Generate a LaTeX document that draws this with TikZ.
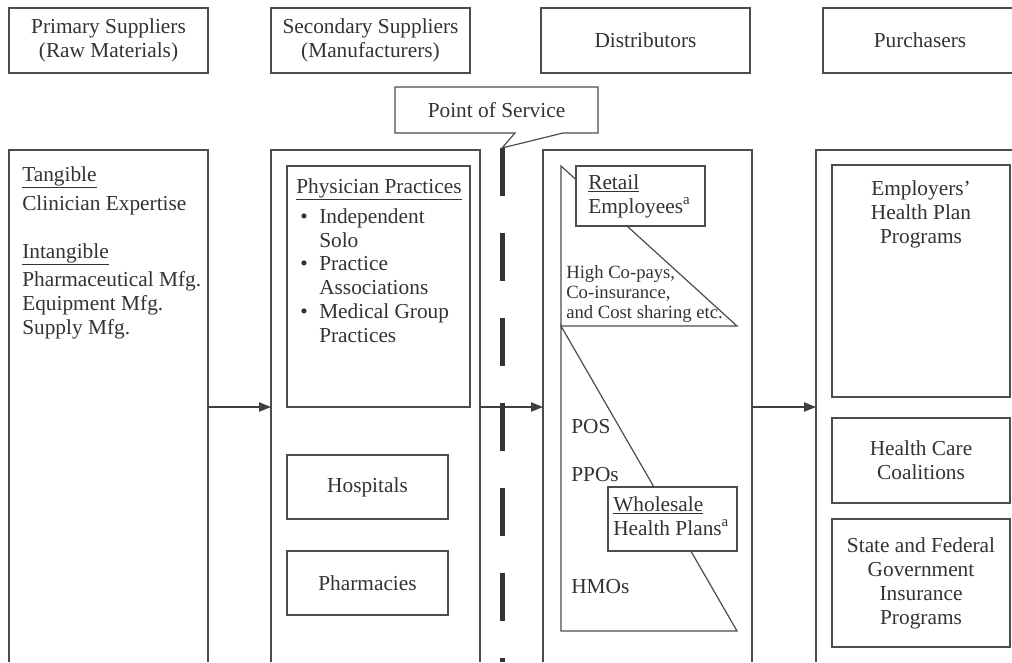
\documentclass[tikz,border=0pt]{standalone}
\usepackage{fontspec}
\setmainfont{Liberation Serif}
\usetikzlibrary{arrows.meta}

\tikzset{
  box/.style={draw=black!70,line width=0.9pt,fill=white},
  txt/.style={text=black!80,font=\fontsize{16}{18}\selectfont,inner sep=0pt},
  small/.style={text=black!80,font=\fontsize{14}{15}\selectfont,inner sep=0pt},
  flow/.style={draw=black!75,line width=0.9pt,-{Triangle[length=9pt,width=7pt]}},
  posline/.style={draw=black!80,line width=3.75pt,dash pattern=on 36pt off 27.75pt}
}

\begin{document}
\begin{tikzpicture}[x=0.75pt,y=-0.75pt]
\useasboundingbox (0,0) rectangle (1012,662);

\draw[box] (9,8) rectangle (208,73);
\draw[box] (271,8) rectangle (470,73);
\draw[box] (541,8) rectangle (750,73);
\draw[box] (823,8) rectangle (1017,73);
\node[txt,align=center] (hprim) at (108.5,40.5) {Primary Suppliers\\(Raw Materials)};
\node[txt,align=center] (hsec) at (370.5,40.5) {Secondary Suppliers\\(Manufacturers)};
\node[txt] (hdist) at (645.5,40.5) {Distributors};
\node[txt] (hpurch) at (920,40.5) {Purchasers};

\coordinate (c1r) at (208,407);
\coordinate (c2l) at (271,407);
\coordinate (c2r) at (480,407);
\coordinate (c3l) at (543,407);
\coordinate (c3r) at (752,407);
\coordinate (c4l) at (816,407);
\draw[box] (9,662) -- (9,150) -- (208,150) -- (208,662);
\draw[box] (271,662) -- (271,150) -- (480,150) -- (480,662);
\draw[box] (543,662) -- (543,150) -- (752,150) -- (752,662);
\draw[box] (816,662) -- (816,150) -- (1030,150) -- (1030,662);

\draw[flow] (c1r) -- (c2l);
\draw[flow] (c2r) -- (c3l);
\draw[flow] (c3r) -- (c4l);

\coordinate (pos) at (502,148);
\draw[posline] (pos) -- (502,662);
\draw[box] (395,87) -- (598,87) -- (598,133) -- (563,133) -- (pos) -- (515,133) -- (395,133) -- cycle;
\node[txt] (service) at (496.5,110) {Point of Service};

\node[txt,anchor=base west] (tang) at (22,181) {\underline{Tangible}};
\node[txt,anchor=base west] (clin) at (22,210) {Clinician Expertise};
\node[txt,anchor=base west] (intang) at (22,258) {\underline{Intangible}};
\node[txt,anchor=base west] (pharm) at (22,286) {Pharmaceutical Mfg.};
\node[txt,anchor=base west] (equip) at (22,310) {Equipment Mfg.};
\node[txt,anchor=base west] (supply) at (22,334) {Supply Mfg.};

\draw[box] (287,166) rectangle (470,407);
\node[txt,anchor=base west] (phys) at (296,193) {\underline{Physician Practices}};
\foreach \y/\a/\b [count=\i] in {223/Independent/Solo,270/Practice/Associations,318/Medical Group/Practices}{
  \node[txt,anchor=base west] (bul\i) at (300,\y) {\textbullet};
  \node[txt,anchor=base west] (itma\i) at (319,\y) {\a};
  \node[txt,anchor=base west] (itmb\i) at (319,\y+24) {\b};
}
\draw[box] (287,455) rectangle (448,519);
\node[txt] (hosp) at (367.5,487) {Hospitals};
\draw[box] (287,551) rectangle (448,615);
\node[txt] (pharmacy) at (367.5,583) {Pharmacies};

\draw[box,fill=none] (561,166) -- (561,326) -- (737,326) -- cycle;
\draw[box,fill=none] (561,326) -- (561,631) -- (737,631) -- cycle;
\draw[box] (576,166) rectangle (705,226);
\node[txt,anchor=base west] (retail) at (588,189) {\underline{Retail}};
\node[txt,anchor=base west] (employees) at (588,213) {Employees\textsuperscript{a}};
\node[small,anchor=base west] (copay) at (566,278) {High Co-pays,};
\node[small,anchor=base west] (coins) at (566,298) {Co-insurance,};
\node[small,anchor=base west] (costsh) at (566,318) {and Cost sharing etc.};
\node[txt,anchor=base west] (pos2) at (571,433) {POS};
\node[txt,anchor=base west] (ppo) at (571,481) {PPOs};
\draw[box] (608,487) rectangle (737,551);
\node[txt,anchor=base west] (wholesale) at (613,511) {\underline{Wholesale}};
\node[txt,anchor=base west] (hplans) at (613,535) {Health Plans\textsuperscript{a}};
\node[txt,anchor=base west] (hmo) at (571,593) {HMOs};

\draw[box] (832,165) rectangle (1010,397);
\node[txt,align=center] (employers) at (921,214) {Employers’\\Health Plan\\Programs};
\draw[box] (832,418) rectangle (1010,503);
\node[txt,align=center] (coal) at (921,460) {Health Care\\Coalitions};
\draw[box] (832,519) rectangle (1010,647);
\node[txt,align=center] (gov) at (921,583) {State and Federal\\Government\\Insurance\\Programs};
\end{tikzpicture}
\end{document}
